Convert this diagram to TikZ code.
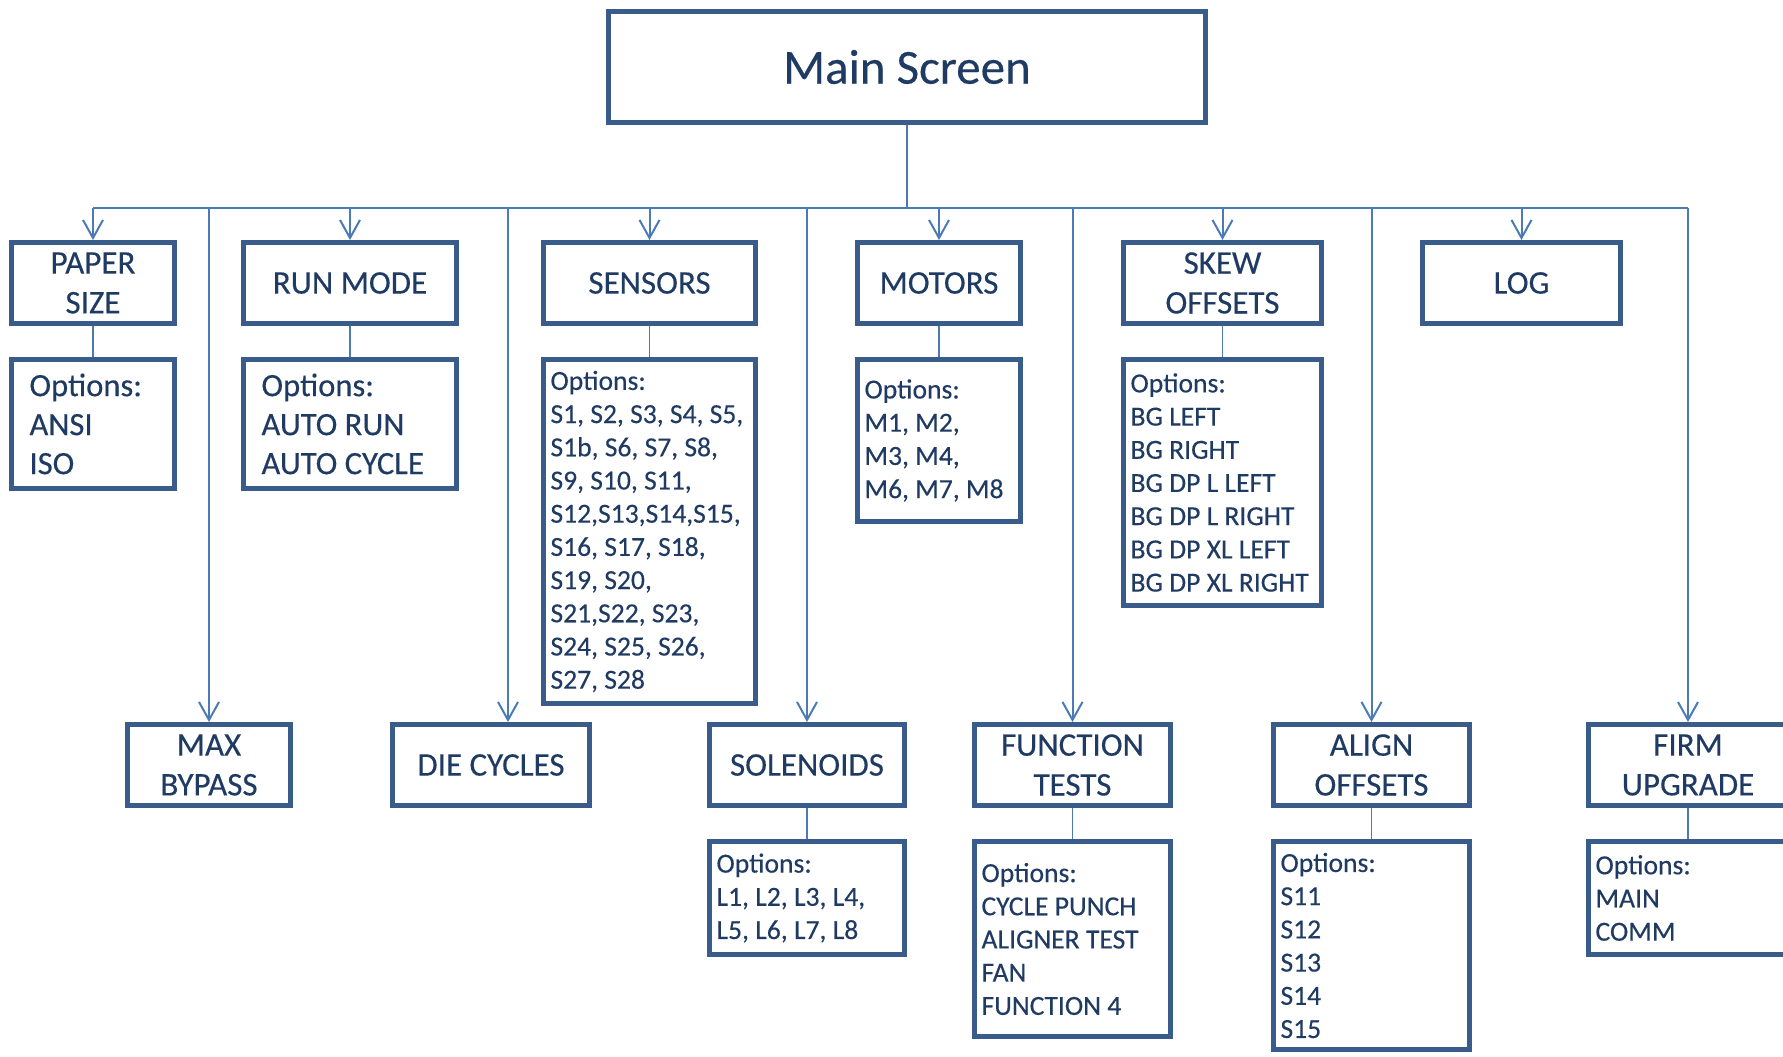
\documentclass[tikz,border=0pt]{standalone}
\usepackage{fontspec}
\setmainfont{Carlito}[FakeBold=0.3]
\usetikzlibrary{arrows.meta,positioning}
\definecolor{msink}{HTML}{1F3B63}
\definecolor{msframe}{HTML}{3A5C8A}
\definecolor{msline}{HTML}{4A7BB7}
\tikzset{
  msbox/.style={
    draw=msframe,
    line width=2.5pt,
    fill=white,
    align=center,
    inner sep=2pt,
    minimum height=40.5pt,
    font=\fontsize{16.5}{19.9}\selectfont,
    text=msink
  },
  mstop/.style={msbox, minimum width=298.5pt, minimum height=55.5pt,
    font=\fontsize{24.5}{29}\selectfont},
  msopt/.style={msbox, align=flush left, inner xsep=3.5pt,
    font=\fontsize{13.8}{16.6}\selectfont},
  msoptbig/.style={msopt, inner xsep=9pt,
    font=\fontsize{16.3}{19.5}\selectfont},
  msbus/.style={line width=1pt, color=msline},
  msarrow/.style={msbus, -{Straight Barb[length=9pt,width=10pt]}},
  mslink/.style={line width=0.6pt, color=msline}
}

\begin{document}
\begin{tikzpicture}[x=0.5pt,y=-0.5pt]
  \useasboundingbox (0,0) rectangle (1783,1056);

  \node[mstop] (main) at (907,67) {Main Screen};

  \node[msbox, minimum width=81.5pt] (paper) at (93,283) {PAPER\\SIZE};
  \node[msbox, minimum width=106.5pt] (run) at (350,283) {RUN MODE};
  \node[msbox, minimum width=106pt] (sensors) at (649.5,283) {SENSORS};
  \node[msbox, minimum width=81.5pt] (motors) at (939,283) {MOTORS};
  \node[msbox, minimum width=99pt] (skew) at (1222.5,283) {SKEW\\OFFSETS};
  \node[msbox, minimum width=99pt] (log) at (1521.5,283) {LOG};

  \node[msoptbig, text width=63.5pt, minimum height=64.5pt] (opt-paper) at (93,424) {%
    Options:\\ANSI\\ISO};
  \node[msoptbig, text width=88.5pt, minimum height=64.5pt] (opt-run) at (350,424) {%
    Options:\\AUTO RUN\\AUTO CYCLE};
  \node[msopt, text width=99pt, minimum height=172pt] (opt-sensors) at (649.5,531.5) {%
    Options:\\S1, S2, S3, S4, S5,\\S1b, S6, S7, S8,\\S9, S10, S11,\\
    S12,S13,S14,S15,\\S16, S17, S18,\\S19, S20,\\S21,S22, S23,\\
    S24, S25, S26,\\S27, S28};
  \node[msopt, text width=74.5pt, minimum height=81pt] (opt-motors) at (939,440.5) {%
    Options:\\M1, M2,\\M3, M4,\\M6, M7, M8};
  \node[msopt, text width=92pt, minimum height=123pt] (opt-skew) at (1222.5,482.5) {%
    Options:\\BG LEFT\\BG RIGHT\\BG DP L LEFT\\BG DP L RIGHT\\
    BG DP XL LEFT\\BG DP XL RIGHT};

  \node[msbox, minimum width=81.5pt] (maxbyp) at (209,765) {MAX\\BYPASS};
  \node[msbox, minimum width=98.5pt] (diecyc) at (491,765) {DIE CYCLES};
  \node[msbox, minimum width=97.5pt] (solen) at (807,765) {SOLENOIDS};
  \node[msbox, minimum width=98pt] (functs) at (1072.5,765) {FUNCTION\\TESTS};
  \node[msbox, minimum width=98pt] (alignoff) at (1371.5,765) {ALIGN\\OFFSETS};
  \node[msbox, minimum width=99.5pt] (firm) at (1688,765) {FIRM\\UPGRADE};

  \node[msopt, text width=90.5pt, minimum height=56.5pt] (opt-solen) at (807,898) {%
    Options:\\L1, L2, L3, L4,\\L5, L6, L7, L8};
  \node[msopt, text width=91pt, minimum height=97.5pt] (opt-functs) at (1072.5,939) {%
    Options:\\CYCLE PUNCH\\ALIGNER TEST\\FAN\\FUNCTION 4};
  \node[msopt, text width=91pt, minimum height=104pt] (opt-alignoff) at (1371.5,945.5) {%
    Options:\\S11\\S12\\S13\\S14\\S15};
  \node[msopt, text width=92.5pt, minimum height=56.5pt] (opt-firm) at (1688,898) {%
    Options:\\MAIN\\COMM};

  \coordinate (bus) at (907,208);
  \coordinate (dietop) at ([xshift=8.5pt]diecyc.north);
  \draw[msbus] (main.south) -- (bus);
  \draw[msbus] (paper.north |- bus) -- (firm.north |- bus);
  \foreach \n in {paper,run,sensors,motors,skew,log,maxbyp,solen,functs,alignoff,firm}
    \draw[msarrow] (\n.north |- bus) -- (\n.north);
  \draw[msarrow] (dietop |- bus) -- (dietop);
  \foreach \n in {paper,run,sensors,motors,skew,solen,functs,alignoff,firm}
    \draw[mslink] (\n.south) -- (opt-\n.north);
\end{tikzpicture}
\end{document}
